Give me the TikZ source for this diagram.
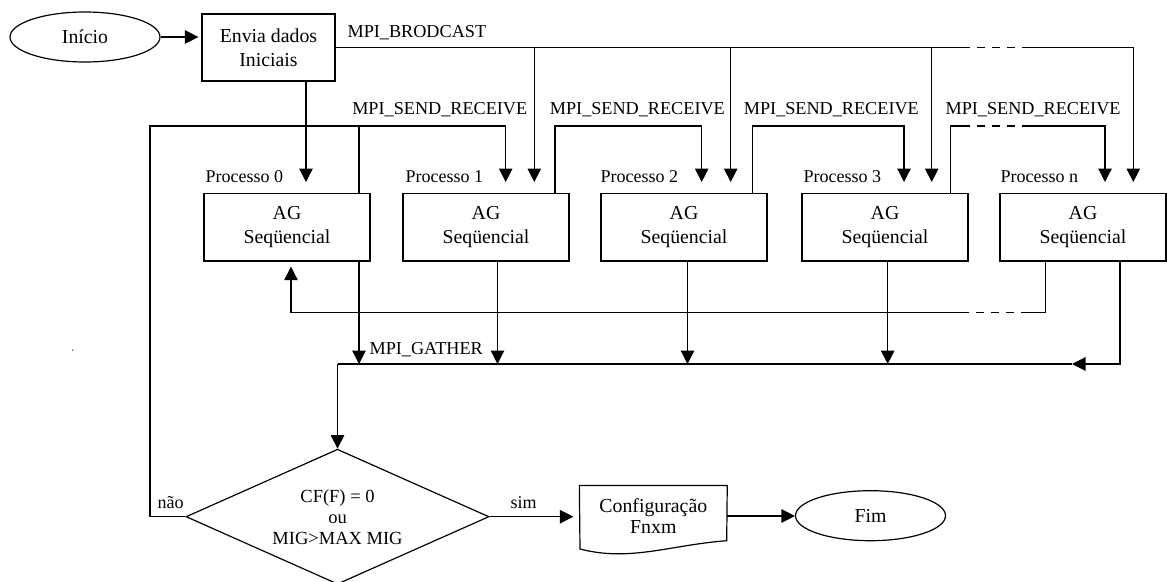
\documentclass[tikz,border=0pt]{standalone}
\usepackage{fontspec}
\setmainfont{Liberation Serif}
\usetikzlibrary{arrows.meta,shapes.geometric}
\begin{document}
\begin{tikzpicture}[x=1pt,y=-1pt,
  line width=1.2pt,
  every node/.style={inner sep=0pt},
  arr/.style={-{Triangle[length=13.5pt,width=13.5pt]}},
  boxtext/.style={font=\fontsize{19.8}{23.7}\selectfont, align=center},
  mpi/.style={font=\fontsize{18.2}{20}\selectfont, anchor=base west},
  proc/.style={font=\fontsize{18}{20}\selectfont, anchor=base west},
  procbox/.style={draw, rectangle, minimum width=166pt, minimum height=67.5pt, boxtext},
  term/.style={draw, ellipse, minimum width=150pt, minimum height=50pt, boxtext},
  dashpart/.style={dash pattern=on 8pt off 7pt, dash phase=8pt}
]
\fill[white] (0,0) rectangle (1167,581);
\useasboundingbox (0,0) rectangle (1167,581);

% terminals and main boxes
\node[term] (inicio) at (85,37) {Início};
\node[draw, rectangle, minimum width=133pt, minimum height=67pt, boxtext] (envia) at (268.5,47.5) {Envia dados\\Iniciais};

\node[procbox] (p0) at (287,227.3) {AG\\Seqüencial};
\node[procbox] (p1) at (486,227.3) {AG\\Seqüencial};
\node[procbox] (p2) at (684,227.3) {AG\\Seqüencial};
\node[procbox] (p3) at (885,227.3) {AG\\Seqüencial};
\node[procbox] (pn) at (1083,227.3) {AG\\Seqüencial};

\node[proc] (lp0) at (205,182.7) {Processo 0};
\node[proc] (lp1) at (405,182.7) {Processo 1};
\node[proc] (lp2) at (600,182.7) {Processo 2};
\node[proc] (lp3) at (803,182.7) {Processo 3};
\node[proc] (lpn) at (1000,182.7) {Processo n};

\node[draw, diamond, aspect=2.244, minimum width=303pt, minimum height=135pt,
      font=\fontsize{18.5}{21}\selectfont, align=center] (dec) at (337.5,516.7)
      {CF(F) = 0\\ou\\MIG>MAX MIG};

% output document shape
\node[boxtext, font=\fontsize{19.8}{20.7}\selectfont, minimum width=146.7pt, minimum height=60pt] (cfg) at (653.3,516) {Configuração\\Fnxm};
\draw (cfg.north west) -- (cfg.north east) -- (726.7,540.7)
      .. controls (670,545) and (630,562) .. (580,549) -- cycle;

\node[term] (fim) at (870.5,515.7) {Fim};

% labels
\node[mpi] (lbc) at (347,37.3) {MPI\_BRODCAST};
\node[mpi] (lsr1) at (351.7,114) {MPI\_SEND\_RECEIVE};
\node[mpi] (lsr2) at (549.3,114) {MPI\_SEND\_RECEIVE};
\node[mpi] (lsr3) at (743.3,114) {MPI\_SEND\_RECEIVE};
\node[mpi] (lsr4) at (945,114) {MPI\_SEND\_RECEIVE};
\node[mpi] (lga) at (369,354) {MPI\_GATHER};
\node[proc] (lnao) at (157,508.3) {não};
\node[proc] (lsim) at (510,508.3) {sim};
\fill (72.7,350) circle (0.7pt);

% routing points
\coordinate (e0) at (306,182);
\coordinate (b1) at (534.3,182);
\coordinate (b2) at (730.7,182);
\coordinate (b3) at (931.7,182);
\coordinate (bn) at (1133.3,182);
\coordinate (bcd1) at (970,47.5);
\coordinate (bcd2) at (1022,47.5);

\coordinate (loopc) at (150,126);
\coordinate (s0) at (359,126);
\coordinate (r1) at (505.7,182);
\coordinate (s1) at (555,126);
\coordinate (r2) at (701.7,182);
\coordinate (s2) at (752.3,126);
\coordinate (r3) at (904,182);
\coordinate (s3) at (950.7,126);
\coordinate (srd1) at (970,126);
\coordinate (srd2) at (1022,126);
\coordinate (rn) at (1105,182);

\coordinate (g0) at (359,364);
\coordinate (g1) at (497.5,364);
\coordinate (g2) at (687.5,364);
\coordinate (g3) at (887.7,364);
\coordinate (gn) at (1120,364);
\coordinate (gend) at (1072,364);
\coordinate (gstart) at (337.5,364);

\coordinate (fn) at (1045.4,312.3);
\coordinate (fd1) at (1021,312.3);
\coordinate (fd2) at (969,312.3);
\coordinate (f0) at (291,266.7);

% start
\draw[arr, shorten >=3pt] (inicio.east) -- (inicio.east -| envia.west);
\draw[arr] (envia.south -| e0) -- (e0);

% broadcast
\draw[arr] (envia.east) -| (b1);
\draw[arr] (envia.east) -| (b2);
\draw[arr] (envia.east) -| (b3);
\draw (envia.east) -- (bcd1);
\draw[dashpart] (bcd1) -- (bcd2);
\draw[arr] (bcd2) -| (bn);

% send / receive ring
\draw[arr] (dec.west) -| (loopc) -| (r1);
\draw (p0.north -| s0) -- (s0);
\draw[arr] (p1.north -| s1) -- (s1) -| (r2);
\draw[arr] (p2.north -| s2) -- (s2) -| (r3);
\draw (p3.north -| s3) -- (s3) -- (srd1);
\draw[dashpart] (srd1) -- (srd2);
\draw[arr] (srd2) -| (rn);

% feedback from last process
\draw (pn.south -| fn) -- (fn) -- (fd1);
\draw[dashpart] (fd1) -- (fd2);
\draw[arr] (fd2) -| (f0);

% gather
\draw[arr] (p0.south -| g0) -- (g0);
\draw[arr] (p1.south -| g1) -- (g1);
\draw[arr] (p2.south -| g2) -- (g2);
\draw[arr] (p3.south -| g3) -- (g3);
\draw[arr] (pn.south -| gn) -- (gn) -- (gend);
\draw (gstart) -- (gend);
\draw[arr] (gstart) -- (dec.north);

% decision outcome
\draw[arr, shorten >=6pt] (dec.east) -- (dec.east -| cfg.west);
\draw[arr] (cfg.east) -- (cfg.east -| fim.west);
\end{tikzpicture}
\end{document}
